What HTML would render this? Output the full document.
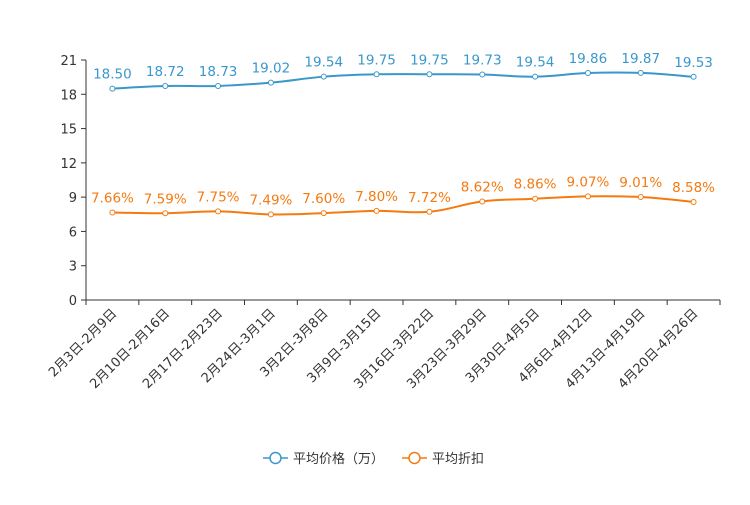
<!DOCTYPE html>
<html><head><meta charset="utf-8"><style>
body{margin:0;background:#fff;}
svg text{font-family:"DejaVu Sans","Noto Sans CJK SC",sans-serif;}
</style></head><body>
<svg id="chart" width="750" height="500"></svg>
<script>
const categories=["2月3日-2月9日","2月10日-2月16日","2月17日-2月23日","2月24日-3月1日","3月2日-3月8日","3月9日-3月15日","3月16日-3月22日","3月23日-3月29日","3月30日-4月5日","4月6日-4月12日","4月13日-4月19日","4月20日-4月26日"];
const avgPrice=[18.50,18.72,18.73,19.02,19.54,19.75,19.75,19.73,19.54,19.86,19.87,19.53];
const avgDiscount=[7.66,7.59,7.75,7.49,7.60,7.80,7.72,8.62,8.86,9.07,9.01,8.58];
const yTicks=[0,3,6,9,12,15,18,21];
const seriesNames=["平均价格（万）","平均折扣"];
const NS="http://www.w3.org/2000/svg";
const svg=document.getElementById('chart');
const L=86,R=720,T=60,B=300,yMax=21;
const band=(R-L)/categories.length;
const x=i=>L+band*(i+0.5);
const y=v=>B-(v/yMax)*(B-T);
function mk(t,a,p){const e=document.createElementNS(NS,t);for(const k in a)e.setAttribute(k,a[k]);(p||svg).appendChild(e);return e;}
const yAxis=mk('line',{x1:L,y1:T,x2:L,y2:B,stroke:'#333'});


const xAxis=mk('line',{x1:L,y1:B,x2:R,y2:B,stroke:'#333'});


yTicks.forEach(v=>{
  mk('line',{x1:L-5,y1:y(v),x2:L,y2:y(v),stroke:'#333'});
  const t=mk('text',{x:L-9,y:y(v)+5,'text-anchor':'end','font-size':13,fill:'#333'});
  t.textContent=v;
  
  
});
for(let i=0;i<=categories.length;i++){mk('line',{x1:L+band*i,y1:B,x2:L+band*i,y2:B+5,stroke:'#333'});}
categories.forEach((c,i)=>{
  const t=mk('text',{x:0,y:0,'text-anchor':'end','font-size':13,fill:'#333',transform:`translate(${x(i)+5},${B+14}) rotate(-45)`});
  t.textContent=c;
  
  
});
function smooth(pts){
  let d=`M${pts[0][0]},${pts[0][1]}`;
  for(let i=0;i<pts.length-1;i++){
    const p0=pts[Math.max(0,i-1)],p1=pts[i],p2=pts[i+1],p3=pts[Math.min(pts.length-1,i+2)];
    const s=0.2;
    d+=` C${p1[0]+(p2[0]-p0[0])*s},${p1[1]+(p2[1]-p0[1])*s} ${p2[0]-(p3[0]-p1[0])*s},${p2[1]-(p3[1]-p1[1])*s} ${p2[0]},${p2[1]}`;
  }
  return d;
}
function series(vals,color,name,fmt){
  const g=mk('g',{});
  
  
  const pts=vals.map((v,i)=>[x(i),y(v)]);
  mk('path',{d:smooth(pts),fill:'none',stroke:color,'stroke-width':2},g);
  vals.forEach((v,i)=>{
    const c=mk('circle',{cx:x(i),cy:y(v),r:2.5,fill:'#fff',stroke:color,'stroke-width':1},g);
    
    
    const t=mk('text',{x:x(i),y:y(v)-10,'text-anchor':'middle','font-size':13.5,fill:color},g);
    t.textContent=fmt(v);
    
    
  });
}
series(avgPrice,'#3a97cc','price-series',v=>v.toFixed(2));
series(avgDiscount,'#f57a10','discount-series',v=>v.toFixed(2)+'%');
const legendItems=[[263,'#3a97cc',seriesNames[0]],[402,'#f57a10',seriesNames[1]]];
legendItems.forEach(([lx,col,txt])=>{
  const g=mk('g',{});
  
  
  mk('line',{x1:lx,y1:458,x2:lx+25,y2:458,stroke:col,'stroke-width':1.5},g);
  mk('circle',{cx:lx+12.5,cy:458,r:5.5,fill:'#fff',stroke:col,'stroke-width':1.5},g);
  const t=mk('text',{x:lx+30,y:463,'font-size':13,fill:'#333'},g);
  t.textContent=txt;
});
</script>
</body></html>
